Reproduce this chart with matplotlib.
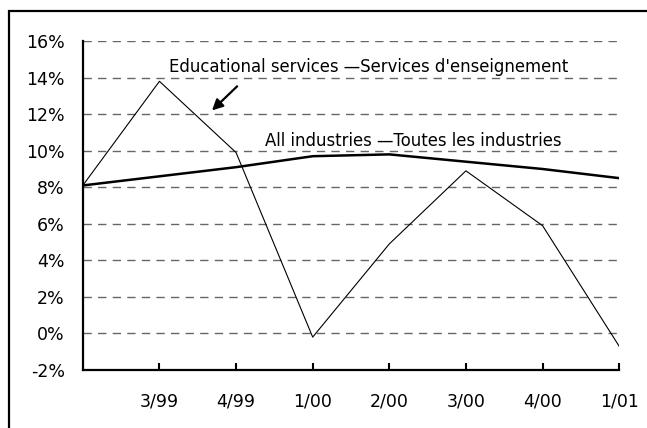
import numpy as np
import matplotlib.pyplot as plt
from matplotlib.patches import Rectangle

plt.rcParams['font.family'] = ['DejaVu Sans']

# Quarterly growth rates (%)
quarters = ['', '3/99', '4/99', '1/00', '2/00', '3/00', '4/00', '1/01']
educational = [8.1, 13.8, 9.9, -0.2, 4.9, 8.9, 5.9, -0.7]
all_industries = [8.1, 8.6, 9.1, 9.7, 9.8, 9.4, 9.0, 8.5]
y_ticks = [-2, 0, 2, 4, 6, 8, 10, 12, 14, 16]

x = np.arange(len(quarters))

fig = plt.figure(figsize=(6.47, 4.28), dpi=100)
ax = fig.add_axes([0.128, 0.1355, 0.829, 0.7685])

# frame around the whole chart
fig.patches.append(Rectangle((9 / 647, -0.2), 1.2, 1 - 11 / 428 + 0.2,
                             transform=fig.transFigure, fill=False,
                             edgecolor='black', linewidth=1.6))

for v in y_ticks[1:]:
    ax.axhline(v, color='0.4', linewidth=1.0, dashes=(6, 4.5), zorder=1)

ax.plot(x, educational, color='black', linewidth=0.8, zorder=3)
ax.plot(x, all_industries, color='black', linewidth=1.8, zorder=3)

ax.set_xlim(0, 7)
ax.set_ylim(-2, 16)
ax.set_yticks(y_ticks)
ax.set_yticklabels([f'{v}%' for v in y_ticks], fontsize=12.5)
ax.set_xticks(x[1:])
ax.set_xticklabels(quarters[1:], fontsize=12.5)
ax.tick_params(axis='x', direction='in', length=5, width=1.5, pad=16)
ax.tick_params(axis='y', length=0, pad=13)

for side in ['top', 'right']:
    ax.spines[side].set_visible(False)
for side in ['left', 'bottom']:
    ax.spines[side].set_linewidth(1.6)

ax.text(3.73, 14.6, "Educational services \u2014Services d'enseignement",
        fontsize=11.9, ha='center', va='center')
ax.text(4.31, 10.55, "All industries \u2014Toutes les industries",
        fontsize=11.9, ha='center', va='center')
ax.annotate('', xy=(1.66, 12.1), xytext=(2.04, 13.63),
            arrowprops=dict(arrowstyle='-|>', color='black', lw=1.6,
                            mutation_scale=16))

fig.savefig('out.png', dpi=100)
